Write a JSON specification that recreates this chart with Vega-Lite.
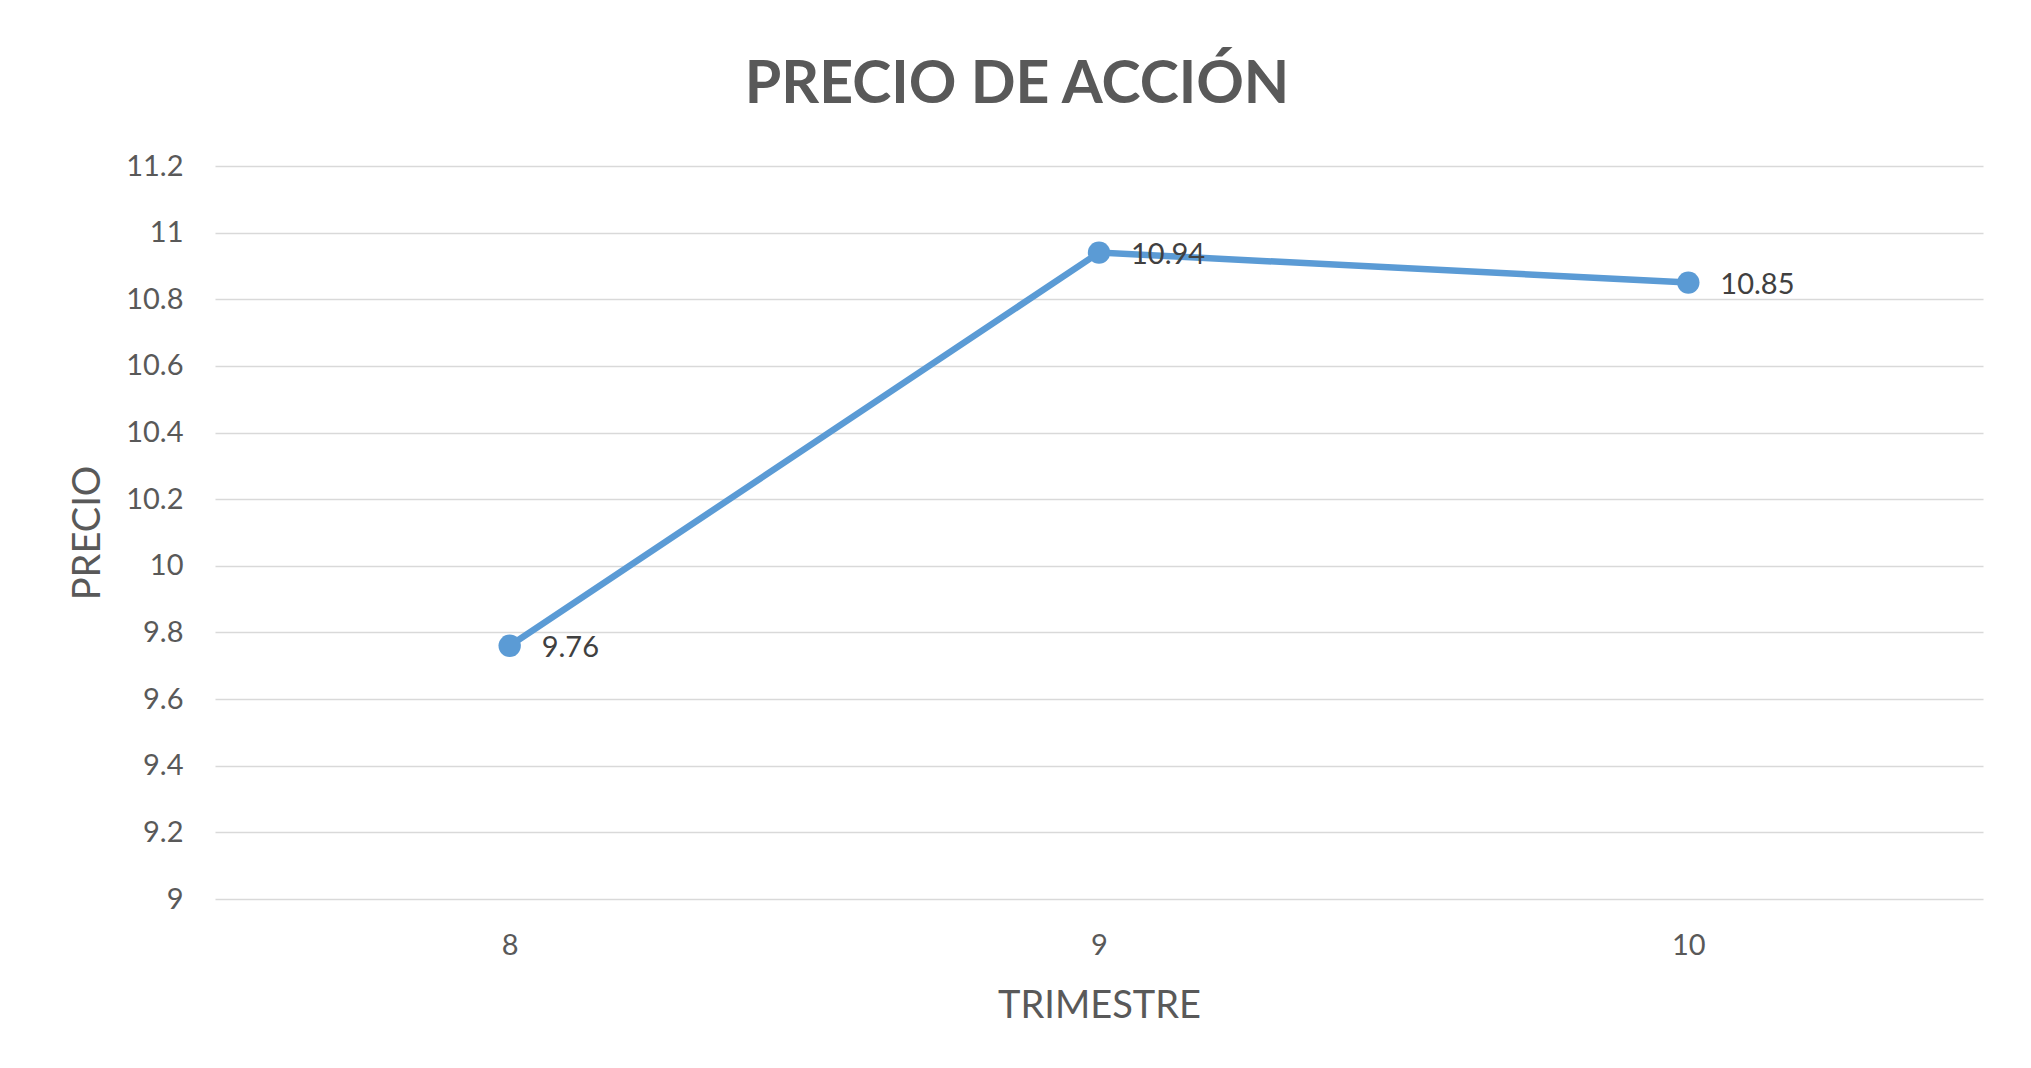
{
  "$schema": "https://vega.github.io/schema/vega-lite/v6.json",
  "autosize": {"type": "none"},
  "width": 1768,
  "height": 733,
  "padding": {"left": 215, "top": 166, "right": 48, "bottom": 169},
  "background": "#ffffff",
  "config": {
    "view": {"stroke": null},
    "font": "Lato"
  },
  "title": {
    "text": "PRECIO DE ACCIÓN",
    "font": "Lato",
    "fontSize": 59,
    "fontWeight": "bold",
    "color": "#595959",
    "anchor": "middle",
    "frame": "group",
    "dx": -82,
    "baseline": "alphabetic",
    "offset": -10
  },
  "data": {
    "values": [
      {"trimestre": 8, "precio": 9.76},
      {"trimestre": 9, "precio": 10.94},
      {"trimestre": 10, "precio": 10.85}
    ]
  },
  "encoding": {
    "x": {
      "field": "trimestre",
      "type": "ordinal",
      "scale": {"type": "point", "padding": 0.5},
      "axis": {
        "title": "TRIMESTRE",
        "titleFont": "Lato",
        "titleFontSize": 38,
        "titleFontWeight": "normal",
        "titleColor": "#595959",
        "titlePadding": 27,
        "labelAngle": 0,
        "labelFont": "Lato",
        "labelFontSize": 29,
        "labelColor": "#595959",
        "labelPadding": 32,
        "ticks": false,
        "domain": false,
        "grid": false
      }
    },
    "y": {
      "field": "precio",
      "type": "quantitative",
      "scale": {"domain": [9, 11.2], "zero": false, "nice": false},
      "axis": {
        "title": "PRECIO",
        "titleFont": "Lato",
        "titleFontSize": 38,
        "titleFontWeight": "normal",
        "titleColor": "#595959",
        "titlePadding": 18,
        "values": [9, 9.2, 9.4, 9.6, 9.8, 10, 10.2, 10.4, 10.6, 10.8, 11, 11.2],
        "format": "~g",
        "labelFont": "Lato",
        "labelFontSize": 29,
        "labelColor": "#595959",
        "labelPadding": 32,
        "ticks": false,
        "domain": false,
        "grid": true,
        "gridColor": "#d9d9d9",
        "gridWidth": 1.6
      }
    }
  },
  "layer": [
    {
      "mark": {"type": "line", "color": "#5B9BD5", "strokeWidth": 6.5}
    },
    {
      "mark": {"type": "point", "shape": "circle", "filled": true, "opacity": 1, "color": "#5B9BD5", "size": 500}
    },
    {
      "mark": {"type": "text", "align": "left", "baseline": "middle", "dx": 32, "dy": 2, "font": "Lato", "fontSize": 29, "color": "#404040"},
      "encoding": {
        "text": {"field": "precio", "type": "quantitative", "format": ".2f"}
      }
    }
  ]
}
